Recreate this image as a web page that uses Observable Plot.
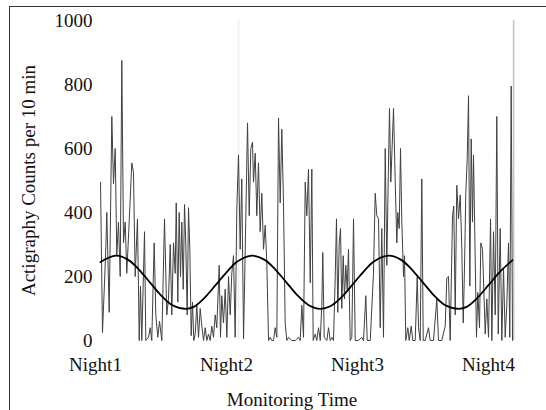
<!DOCTYPE html>
<html><head><meta charset="utf-8">
<script src="https://cdn.jsdelivr.net/npm/d3@7"></script>
<script src="https://cdn.jsdelivr.net/npm/@observablehq/plot@0.6"></script>
<style>
body{margin:0;background:#fff;}
#wrap{position:relative;width:546px;height:410px;overflow:hidden;}
#box{position:absolute;left:9px;top:6px;width:600px;height:500px;border-left:1.5px solid #333;border-top:1.5px solid #333;pointer-events:none;}
</style></head><body>
<div id="wrap"><div id="chart"></div><div id="box"></div></div>
<script>
// Tick labels
const nightHours = [0, 24, 48, 72];
const nightLabels = ["Night1", "Night2", "Night3", "Night4"];
const yTicks = [0, 200, 400, 600, 800, 1000];
const xLabel = "Monitoring Time";
const yLabel = "Actigraphy Counts per 10 min";

// Actigraphy series (hours since Night1, counts per 10 min)
const hours = [
  0.92,1.28,1.65,1.89,2.07,2.51,2.99,3.30,3.61,3.90,4.21,4.53,4.82,5.13,5.44,5.73,6.17,6.65,6.96,7.27,7.69,8.01,8.24,8.48,8.98,9.22,9.71,10.02,10.31,10.75,11.05,11.41,11.73,12.15,12.64,13.06,
  13.37,13.69,13.98,14.29,14.60,14.79,15.08,15.33,15.57,15.81,16.07,16.31,16.54,16.80,17.04,17.28,17.53,17.77,18.01,18.27,18.56,18.87,19.18,19.48,19.79,20.10,20.39,20.70,21.01,21.31,21.62,21.93,22.22,22.66,22.90,23.14,23.45,23.76,24.06,24.37,24.68,24.97,25.28,25.59,25.89,
  26.20,26.51,26.80,27.12,27.43,27.85,28.16,28.45,28.76,28.95,29.26,29.55,29.86,30.17,30.47,30.78,31.09,31.38,31.70,32.01,32.30,32.61,32.92,33.22,33.53,33.84,34.13,34.44,34.75,35.05,35.36,35.96,36.59,37.19,37.50,37.80,38.11,38.42,38.71,
  39.02,39.34,39.63,39.88,40.25,40.54,40.86,41.17,41.46,41.64,41.90,42.38,42.69,43.00,43.29,43.60,43.92,44.15,44.39,44.65,44.89,45.12,45.38,45.62,45.86,46.11,46.35,46.66,46.96,47.27,47.58,48.18,48.79,49.10,49.52,49.78,50.33,50.93,51.24,51.54,
  51.85,52.16,52.45,52.76,53.08,53.37,53.68,53.86,54.10,54.29,54.60,54.91,55.20,55.38,55.64,55.88,56.12,56.43,56.61,56.85,57.22,57.47,57.84,58.13,58.57,58.94,59.18,59.49,59.78,60.04,60.40,61.01,61.32,61.92,62.53,62.84,63.44,64.07,64.36,
  64.67,64.98,65.41,65.64,65.90,66.19,66.51,66.82,67.11,67.37,67.60,67.84,68.10,68.34,68.58,68.83,69.07,69.25,69.56,69.80,70.04,70.35,70.59,70.90,71.14,71.40,71.69,72.00,72.37,72.61,72.92,73.23,73.52,73.78,74.14,74.44,74.75,75.06,75.35,75.66,75.90,76.16,76.40
];
const counts = [
  494,25,180,290,400,88,700,490,600,265,370,200,875,305,370,210,370,555,525,200,380,0,170,0,340,0,10,40,0,305,80,10,60,0,380,80,
  130,300,80,305,210,430,120,400,200,370,160,425,305,80,415,285,15,120,0,20,110,10,100,45,0,40,0,20,0,45,10,80,40,235,10,140,55,160,10,200,80,210,265,10,410,
  580,285,505,5,285,680,390,600,620,495,585,390,555,340,460,285,360,245,0,10,0,0,40,10,695,430,660,430,55,0,10,0,0,10,0,110,10,495,390,
  535,180,535,0,20,0,40,0,110,275,10,0,40,0,10,0,200,380,88,305,350,100,265,130,235,160,285,0,10,380,0,0,10,0,140,0,0,210,460,390,
  380,40,350,10,600,235,555,725,495,580,725,495,305,400,350,600,370,200,265,0,40,0,45,0,0,200,40,0,505,0,0,40,0,0,130,0,0,45,195,
  200,0,390,420,80,485,380,455,285,55,225,460,570,765,170,630,370,580,255,10,150,40,305,285,160,20,130,10,380,0,340,80,700,20,350,0,225,10,110,305,10,795,0
];

// Fitted rhythm curve
const fitHours = [0.9,3.7,6,8,10,12,14,16.6,18,20,22,24,26,28.7,31,33,35,37,39,41.2,43,45,47,49,51,53.7,56,58,60,62,64,66.6,68,70,72,74,76.4];
const fitCounts = [245,265,252,221,181,141,111,99,105,134,173,213,247,265,252,221,181,141,111,99,107,134,173,213,247,265,252,221,181,141,111,99,105,134,173,213,251];

// Faint vertical markers in the original figure
const markerHours = [26.2, 76.6];
const markerShade = ["#eeeeee", "#c4c4c4"];

const n = Math.min(hours.length, counts.length);
if (hours.length !== counts.length) console.error("length mismatch", hours.length, counts.length);
const rows = d3.range(n).map(i => ({h: hours[i], c: counts[i]}));
const fit = fitHours.map((h, i) => ({h, c: fitCounts[i]}));
const markers = markerHours.map((h, i) => ({h, s: markerShade[i]}));
const labelOf = new Map(nightHours.map((h, i) => [h, nightLabels[i]]));

const plot = Plot.plot({
  width: 546, height: 410,
  marginLeft: 95, marginRight: 30.7, marginTop: 20, marginBottom: 70,
  style: {fontFamily: "'Liberation Serif', 'Times New Roman', serif", fontSize: "19px", color: "#111", background: "#fff", overflow: "visible"},
  x: {domain: [0, 77], ticks: nightHours, tickFormat: d => labelOf.get(d), tickSize: 0, tickPadding: 17, label: null},
  y: {domain: [0, 1000], ticks: yTicks, tickFormat: d3.format("d"), tickSize: 0, tickPadding: 3, label: null},
  marks: [
    Plot.ruleX(markers, {x: "h", stroke: "s", strokeWidth: 1.6}),
    Plot.line(rows, {x: "h", y: "c", stroke: "#404040", strokeWidth: 1}),
    Plot.line(fit, {x: "h", y: "c", curve: "catmull-rom", stroke: "#000", strokeWidth: 1.8}),
    Plot.text([xLabel], {x: 36, text: d => d, frameAnchor: "bottom", lineAnchor: "bottom", dy: 65, fontSize: 19, fill: "#111"}),
    Plot.text([yLabel], {y: 500, text: d => d, frameAnchor: "left", textAnchor: "middle", lineAnchor: "middle", dx: -67, rotate: -90, fontSize: 19, fill: "#111"})
  ]
});
document.getElementById("chart").appendChild(plot);
</script>
</body></html>
